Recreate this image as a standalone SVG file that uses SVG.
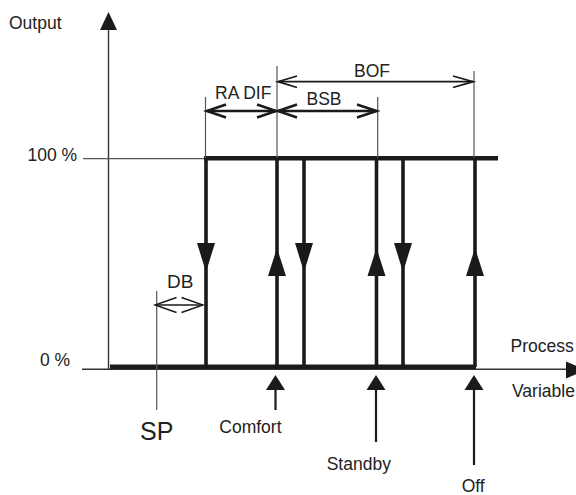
<svg xmlns="http://www.w3.org/2000/svg" width="576" height="495" viewBox="0 0 576 495">
<defs>
<style>
text{font-family:"Liberation Sans",Arial,sans-serif;font-size:17.5px;fill:#222}
.thin{stroke:#555;stroke-width:1.2;fill:none}
.axis{stroke:#333;stroke-width:1.4;fill:none}
.thick{stroke:#1a1a1a;stroke-width:3.6;fill:none}
.bold{stroke:#1a1a1a;stroke-width:4.6;fill:none}
.dim{stroke:#1a1a1a;stroke-width:2.6;fill:none}
.dim2{stroke:#1a1a1a;stroke-width:1.8;fill:none}
.dim3{stroke:#1a1a1a;stroke-width:1.4;fill:none}
.head{fill:#1a1a1a}
.mk{stroke:#1a1a1a;stroke-width:2.2}
</style>
</defs>
<rect width="576" height="495" fill="#fff"/>
<g id="axes">
<line class="axis" x1="108.5" y1="28" x2="108.5" y2="369"/>
<polygon class="head" points="108.5,12 100,30 117,30"/>
<line class="axis" x1="82" y1="369.2" x2="568" y2="369.2"/>
<polygon class="head" points="566,361.5 566,378.5 586,370"/>
<line class="thin" x1="83" y1="158.7" x2="206" y2="158.7"/>
<text x="9" y="29.3">Output</text>
<text x="27.5" y="161">100 %</text>
<text x="40" y="366">0 %</text>
<text x="510.5" y="352">Process</text>
<text x="512" y="396.5">Variable</text>
</g>
<g id="hysteresis">
<line class="bold" x1="110" y1="366.7" x2="476" y2="366.7"/>
<line class="bold" x1="204" y1="158.3" x2="498" y2="158.3"/>
<line class="thick" x1="206" y1="158" x2="206" y2="367"/>
<line class="thick" x1="277" y1="158" x2="277" y2="367"/>
<line class="thick" x1="304" y1="158" x2="304" y2="367"/>
<line class="thick" x1="376.5" y1="158" x2="376.5" y2="367"/>
<line class="thick" x1="403" y1="158" x2="403" y2="367"/>
<line class="thick" x1="475" y1="158" x2="475" y2="367"/>
<polygon class="head" points="197,243 215,243 206,272"/>
<polygon class="head" points="295,243 313,243 304,272"/>
<polygon class="head" points="394,243 412,243 403,272"/>
<polygon class="head" points="268,276 286,276 277,248"/>
<polygon class="head" points="367.5,276 385.5,276 376.5,248"/>
<polygon class="head" points="466,276 484,276 475,248"/>
</g>
<g id="dimensions">
<line class="thin" x1="205.5" y1="97" x2="205.5" y2="158"/>
<line class="thin" x1="277" y1="66" x2="277" y2="158"/>
<line class="thin" x1="377.7" y1="97" x2="377.7" y2="158"/>
<line class="thin" x1="474" y1="71" x2="474" y2="158"/>
<line class="thin" x1="156.7" y1="291" x2="156.7" y2="410"/>
<g id="radif">
<line class="dim" x1="207" y1="111" x2="276" y2="111"/>
<polyline class="dim" points="226,104.5 207,111 226,117.5"/>
<polyline class="dim" points="257,104.5 276,111 257,117.5"/>
<text x="215" y="99">RA DIF</text>
</g>
<g id="bsb">
<line class="dim" x1="278" y1="111" x2="376.5" y2="111"/>
<polyline class="dim" points="297,104.5 278,111 297,117.5"/>
<polyline class="dim" points="357,104.5 376.5,111 357,117.5"/>
<text x="306.5" y="105">BSB</text>
</g>
<g id="bof">
<line class="dim2" x1="278" y1="81.7" x2="473" y2="81.7"/>
<polyline class="dim2" points="297,76 278,81.7 297,87.5"/>
<polyline class="dim2" points="453,76 473,81.7 453,87.5"/>
<text x="354" y="77">BOF</text>
</g>
<g id="db">
<line class="dim3" x1="155" y1="305" x2="203" y2="305"/>
<polyline class="dim3" points="176.5,297.5 155,305 176.5,312.5"/>
<polyline class="dim3" points="181.5,297.5 203,305 181.5,312.5"/>
<text x="167" y="288" style="font-size:19px">DB</text>
</g>
</g>
<g id="sp">
<text x="140" y="440" style="font-size:25px">SP</text>
</g>
<g id="comfort">
<polygon class="head" points="275.5,375 266,390 285,390"/>
<line class="mk" x1="275.5" y1="390" x2="275.5" y2="410"/>
<text x="219.3" y="432.7">Comfort</text>
</g>
<g id="standby">
<polygon class="head" points="376,375 366.5,390 385.5,390"/>
<line class="mk" x1="376" y1="390" x2="376" y2="442"/>
<text x="326.7" y="469.5">Standby</text>
</g>
<g id="off">
<polygon class="head" points="474,375 464.5,390 483.5,390"/>
<line class="mk" x1="474" y1="390" x2="474" y2="465"/>
<text x="461.7" y="491.5">Off</text>
</g>
</svg>
